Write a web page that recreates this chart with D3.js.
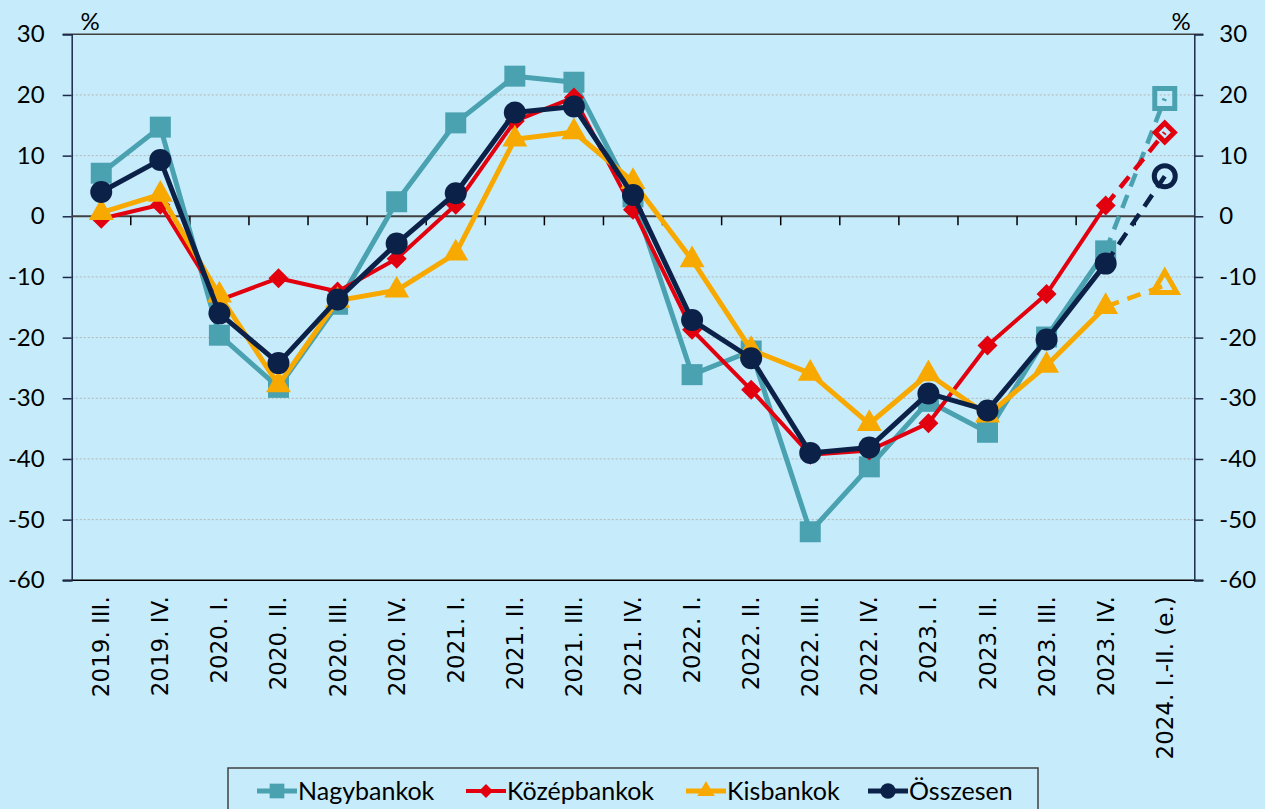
<!DOCTYPE html>
<html>
<head>
<meta charset="utf-8">
<script src="https://cdn.jsdelivr.net/npm/d3@7"></script>
<style>
  body { margin: 0; background: #c6ecfc; }
  svg { display: block; }
</style>
</head>
<body>
<div id="chart"></div>
<script>
// Quarterly change, %
const categories = ["2019. III.", "2019. IV.", "2020. I.", "2020. II.", "2020. III.", "2020. IV.", "2021. I.", "2021. II.", "2021. III.", "2021. IV.", "2022. I.", "2022. II.", "2022. III.", "2022. IV.", "2023. I.", "2023. II.", "2023. III.", "2023. IV.", "2024. I.-II. (e.)"];
const nagybankok = [7.1, 14.7, -19.6, -28.2, -14.5, 2.4, 15.4, 23.1, 22.1, 3.2, -26.1, -22.2, -52, -41.3, -30.5, -35.6, -19.9, -5.7, 19.4];
const kozepbankok = [-0.4, 1.9, -13.8, -10.2, -12.4, -7, 1.9, 15.7, 19.6, 1.1, -18.7, -28.6, -39.3, -38.6, -34.1, -21.3, -12.8, 1.8, 13.8];
const kisbankok = [0.6, 3.6, -13, -27.8, -13.9, -12.2, -6.1, 12.7, 13.9, 5.7, -7.2, -22, -25.9, -34.2, -26, -32.8, -24.6, -14.9, -11.4];
const osszesen = [4, 9.3, -16, -24.2, -13.7, -4.5, 3.8, 17.1, 18.1, 3.5, -17.1, -23.4, -39, -38.1, -29.2, -32, -20.3, -7.8, 6.6];
const yTicks = [30, 20, 10, 0, -10, -20, -30, -40, -50, -60];

const series = [
  { name: "Nagybankok", values: nagybankok, color: "#4aa1b0", shape: "square" },
  { name: "Középbankok", values: kozepbankok, color: "#e2000f", shape: "diamond" },
  { name: "Kisbankok", values: kisbankok, color: "#f7a900", shape: "triangle" },
  { name: "Összesen", values: osszesen, color: "#0c2148", shape: "circle" }
];

const width = 1265;
const height = 809;
const margin = { top: 34.3, right: 70.7, bottom: 228.7, left: 71.7 };

const svg = d3.select("#chart").append("svg").attr("width", width).attr("height", height);

const x = d3.scaleBand().domain(categories).range([margin.left, width - margin.right]);
const y = d3.scaleLinear().domain([-60, 30]).range([height - margin.bottom, margin.top]);

// gridlines
svg.append("g")
  .selectAll("line")
  .data(yTicks.filter((d) => d !== 0 && d !== 30 && d !== -60))
  .enter()
  .append("line")
  .attr("x1", margin.left)
  .attr("x2", width - margin.right)
  .attr("y1", (d) => y(d))
  .attr("y2", (d) => y(d))
  .attr("stroke", "#b4b4b4")
  .attr("stroke-width", 1)
  .attr("stroke-dasharray", "2,2");

// top and bottom frame
svg.append("line")
  .attr("x1", margin.left - 9).attr("x2", width - margin.right + 9)
  .attr("y1", y(30)).attr("y2", y(30))
  .attr("stroke", "#404040").attr("stroke-width", 1.5);
svg.append("line")
  .attr("x1", margin.left - 9).attr("x2", width - margin.right + 9)
  .attr("y1", y(-60)).attr("y2", y(-60))
  .attr("stroke", "#000").attr("stroke-width", 1.5);

// y axes
const fmt = (d) => String(d);
const yLeft = d3.axisLeft(y).tickValues(yTicks).tickSize(9).tickPadding(18).tickFormat(fmt);
const yRight = d3.axisRight(y).tickValues(yTicks).tickSize(9).tickPadding(16).tickFormat(fmt);

const gl = svg.append("g").attr("transform", `translate(${margin.left},0)`).call(yLeft);
const gr = svg.append("g").attr("transform", `translate(${width - margin.right},0)`).call(yRight);
[gl, gr].forEach((g) => {
  g.select(".domain").attr("stroke", "#1c2a4a").attr("stroke-width", 1.5);
  g.selectAll(".tick line").attr("stroke", "#1c2a4a").attr("stroke-width", 1.5);
  g.selectAll(".tick text")
    .attr("fill", "#000")
    .style("font-family", "Lato, 'Open Sans', sans-serif")
    .style("font-size", "24px");
});

// zero axis with category ticks between bands
svg.append("line")
  .attr("x1", margin.left).attr("x2", width - margin.right)
  .attr("y1", y(0)).attr("y2", y(0))
  .attr("stroke", "#404040").attr("stroke-width", 2);
svg.append("g")
  .selectAll("line")
  .data(categories.slice(1))
  .enter()
  .append("line")
  .attr("x1", (d) => x(d))
  .attr("x2", (d) => x(d))
  .attr("y1", y(0))
  .attr("y2", y(0) + 9)
  .attr("stroke", "#000")
  .attr("stroke-width", 1.5);

// category labels at bottom
svg.append("g")
  .selectAll("text")
  .data(categories)
  .enter()
  .append("text")
  .attr("transform", (d) => `translate(${x(d) + x.bandwidth() / 2 + 8},${y(-60) + 16}) rotate(-90)`)
  .attr("text-anchor", "end")
  .style("font-family", "'DejaVu Sans', Verdana, sans-serif")
  .style("font-size", "23px")
  .text((d) => d);

// % labels
svg.append("text").attr("x", 90).attr("y", 30).attr("text-anchor", "middle")
  .style("font-family", "Lato, sans-serif").style("font-size", "24px").text("%");
svg.append("text").attr("x", 1181).attr("y", 30).attr("text-anchor", "middle")
  .style("font-family", "Lato, sans-serif").style("font-size", "24px").text("%");

function markerPath(shape, s) {
  if (shape === "square") return d3.symbol(d3.symbolSquare, s * s)();
  if (shape === "circle") return d3.symbol(d3.symbolCircle, Math.PI * (s / 2) * (s / 2))();
  if (shape === "triangle") return d3.symbol(d3.symbolTriangle, (Math.sqrt(3) / 4) * s * s)();
  const h = s / 2;
  return `M0,${-h}L${h},0L0,${h}L${-h},0Z`;
}
const markerSize = { square: 21, circle: 22, triangle: 25, diamond: 20 };
const lineWidth = { square: 5, circle: 5, triangle: 5, diamond: 4 };

const line = d3.line().x((d) => x(d.cat) + x.bandwidth() / 2).y((d) => y(d.v));
const last = categories.length - 1;

series.forEach((s) => {
  const pts = s.values.map((v, i) => ({ cat: categories[i], v: v }));
  const g = svg.append("g");
  g.append("path")
    .attr("d", line(pts.slice(0, last)))
    .attr("fill", "none")
    .attr("stroke", s.color)
    .attr("stroke-width", lineWidth[s.shape])
    .attr("stroke-linejoin", "round");
  g.append("path")
    .attr("d", line(pts.slice(last - 1)))
    .attr("fill", "none")
    .attr("stroke", s.color)
    .attr("stroke-width", 4.5)
    .attr("stroke-dasharray", "14,9");
  g.selectAll(".mk")
    .data(pts.slice(0, last))
    .enter()
    .append("path")
    .attr("transform", (d) => `translate(${x(d.cat) + x.bandwidth() / 2},${y(d.v)})`)
    .attr("d", markerPath(s.shape, markerSize[s.shape]))
    .attr("fill", s.color);
  g.append("path")
    .attr("transform", `translate(${x(pts[last].cat) + x.bandwidth() / 2},${y(pts[last].v)})`)
    .attr("d", markerPath(s.shape, markerSize[s.shape] - 1))
    .attr("fill", "none")
    .attr("stroke", s.color)
    .attr("stroke-width", 5);
});

// legend
const legend = svg.append("g");
legend.append("rect")
  .attr("x", 228).attr("y", 768).attr("width", 810).attr("height", 50)
  .attr("fill", "none").attr("stroke", "#404040").attr("stroke-width", 1.5);
const legendX = [257, 466, 686, 868];
series.forEach((s, i) => {
  const lx = legendX[i];
  const ly = 791;
  legend.append("line")
    .attr("x1", lx).attr("x2", lx + 40).attr("y1", ly).attr("y2", ly)
    .attr("stroke", s.color).attr("stroke-width", lineWidth[s.shape]);
  legend.append("path")
    .attr("transform", `translate(${lx + 20},${ly})`)
    .attr("d", markerPath(s.shape, markerSize[s.shape] * 0.7))
    .attr("fill", s.color);
  legend.append("text")
    .attr("x", lx + 41).attr("y", ly + 9)
    .style("font-family", "Lato, sans-serif")
    .style("font-size", "25px")
    .text(s.name);
});
</script>
</body>
</html>
